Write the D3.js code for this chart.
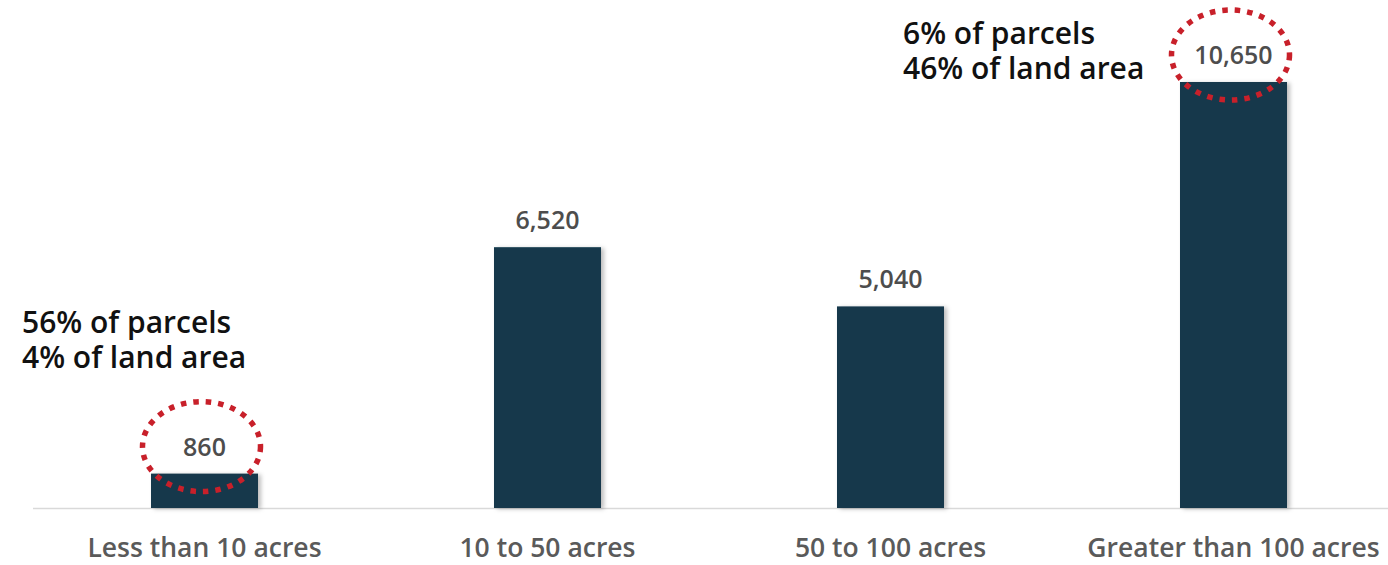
<!DOCTYPE html>
<html><head><meta charset="utf-8">
<script src="https://cdn.jsdelivr.net/npm/d3@7"></script>
<style>body{margin:0;background:#fff;}svg{display:block;font-family:"Open Sans",sans-serif;}</style>
</head><body><svg id="c" width="1388" height="565"></svg>
<script>
const categories = ["Less than 10 acres", "10 to 50 acres", "50 to 100 acres", "Greater than 100 acres"];
const values = [860, 6520, 5040, 10650];
const valueLabels = ["860", "6,520", "5,040", "10,650"];
const highlighted = [0, 3];
const notes = [
  {cat: 0, lines: ["56% of parcels", "4% of land area"]},
  {cat: 3, lines: ["6% of parcels", "46% of land area"]}
];

const svg = d3.select("#c");
const x = d3.scaleBand().domain(categories).range([33, 1405]).paddingInner(0.688).paddingOuter(0.344);
const y = d3.scaleLinear().domain([0, 10650]).range([508, 82]);

const defs = svg.append("defs");
const f = defs.append("filter").attr("id","sh").attr("x","-20%").attr("y","-20%").attr("width","150%").attr("height","150%");
f.append("feDropShadow").attr("dx",3).attr("dy",1).attr("stdDeviation",2).attr("flood-color","#000").attr("flood-opacity",0.25);

svg.append("line").attr("x1",33).attr("x2",1388).attr("y1",y(0)+0.5).attr("y2",y(0)+0.5)
  .attr("stroke","#d9d9d9").attr("stroke-width",1.5);

svg.selectAll("rect.bar").data(values).join("rect").attr("class","bar")
  .attr("x",(d,i)=>x(categories[i])).attr("width",x.bandwidth())
  .attr("y",d=>y(d)).attr("height",d=>y(0)-y(d))
  .attr("fill","#13374b").attr("filter","url(#sh)");

svg.selectAll("text.val").data(values).join("text").attr("class","val")
  .attr("x",(d,i)=>x(categories[i])+x.bandwidth()/2)
  .attr("y",d=>y(d)-18)
  .attr("text-anchor","middle").attr("font-size",25).attr("font-weight",600).attr("fill","#4d4d4d")
  .text((d,i)=>valueLabels[i]);

svg.selectAll("text.cat").data(categories).join("text").attr("class","cat")
  .attr("x",d=>x(d)+x.bandwidth()/2).attr("y",557)
  .attr("text-anchor","middle").attr("font-size",26.5).attr("font-weight",600).attr("fill","#5a5a5a")
  .text(d=>d);

svg.selectAll("ellipse.hl").data(highlighted).join("ellipse").attr("class","hl")
  .attr("cx",i=>x(categories[i])+x.bandwidth()/2-3)
  .attr("cy",i=>y(values[i])-27)
  .attr("rx",59).attr("ry",45)
  .attr("fill","none").attr("stroke","#c8202a").attr("stroke-width",5.5)
  .attr("stroke-dasharray","5.5,7");

const noteX = [22, 903];
const noteY = [333, 44];
notes.forEach((n,k)=>{
  n.lines.forEach((l,j)=>svg.append("text").attr("x",noteX[k]).attr("y",noteY[k]+j*35)
    .attr("font-size",30).attr("font-weight",600).attr("fill","#111").text(l));
});
</script></body></html>
